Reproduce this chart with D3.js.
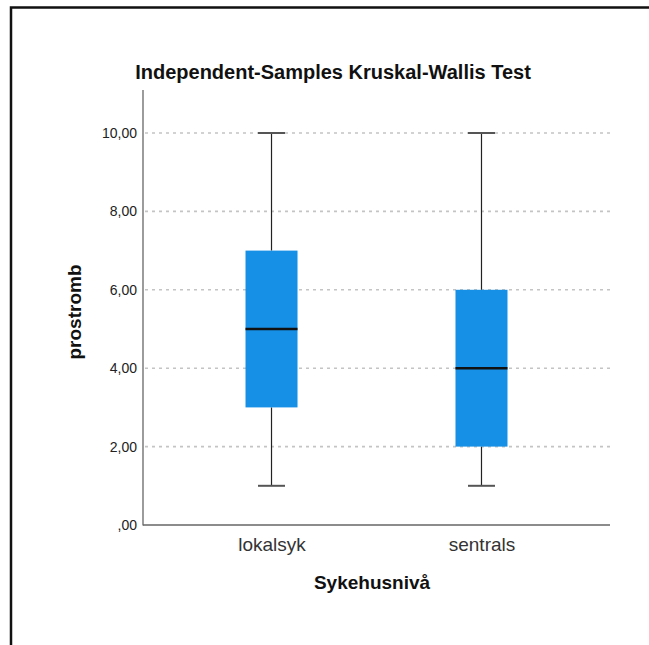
<!DOCTYPE html>
<html><head><meta charset="utf-8">
<script src="https://cdn.jsdelivr.net/npm/d3@7"></script>
<style>body{margin:0;background:#fff}svg{display:block}</style>
</head><body>
<script>
const categories = ["lokalsyk", "sentrals"];
const mins = [1, 1];
const q1s = [3, 2];
const medians = [5, 4];
const q3s = [7, 6];
const maxs = [10, 10];
const yTicks = [0, 2, 4, 6, 8, 10];
const title = "Independent-Samples Kruskal-Wallis Test";
const xTitle = "Sykehusnivå";
const yTitle = "prostromb";

const W = 649, H = 645;
const svg = d3.select("body").append("svg").attr("width", W).attr("height", H);

// outer frame (left + top)
svg.append("path").attr("d", `M11,${H} L11,7.5 L${W},7.5`).attr("fill","none").attr("stroke","#111").attr("stroke-width",2.5);

const x0 = 143, x1 = 610, yTop = 90, yBot = 525;
const y = d3.scaleLinear().domain([0, 11.1]).range([yBot, yBot - 39.2*11.1]);
const x = d3.scalePoint().domain(categories).range([x0, x1]).padding(0.612);

const font = "Arial, 'Liberation Sans', sans-serif";

// gridlines
svg.append("g").selectAll("line").data(yTicks.filter(d=>d>0)).join("line")
  .attr("x1", x0+2).attr("x2", x1).attr("y1", d=>y(d)).attr("y2", d=>y(d))
  .attr("stroke", "#c4c4c4").attr("stroke-width", 1.6).attr("stroke-dasharray", "3,4");

// y axis
const yAxis = d3.axisLeft(y).tickValues(yTicks).tickSize(0).tickPadding(6)
  .tickFormat(d => d === 0 ? ",00" : d3.format(".2f")(d).replace(".", ","));
const gy = svg.append("g").attr("transform", `translate(${x0},0)`).call(yAxis);
gy.select(".domain").remove();
gy.selectAll("text").attr("font-family", font).attr("font-size", 14).attr("fill", "#222");

// axis lines
svg.append("line").attr("x1", x0).attr("x2", x0).attr("y1", yTop).attr("y2", yBot+0.5).attr("stroke", "#666").attr("stroke-width", 1.3);
svg.append("line").attr("x1", x0).attr("x2", x1).attr("y1", yBot).attr("y2", yBot).attr("stroke", "#666").attr("stroke-width", 1.3);

// x axis labels
const xAxis = d3.axisBottom(x).tickSize(0).tickPadding(13);
const gx = svg.append("g").attr("transform", `translate(0,${yBot})`).call(xAxis);
gx.select(".domain").remove();
gx.selectAll("text").attr("font-family", font).attr("font-size", 19).attr("fill", "#333");

// boxes
const boxW = 52, capW = 27;
const data = categories.map((c,i)=>({c, min:mins[i], q1:q1s[i], med:medians[i], q3:q3s[i], max:maxs[i]}));
const g = svg.append("g").selectAll("g").data(data).join("g");
g.append("line").attr("x1", d=>x(d.c)).attr("x2", d=>x(d.c)).attr("y1", d=>y(d.max)).attr("y2", d=>y(d.q3)).attr("stroke","#222").attr("stroke-width",1.2);
g.append("line").attr("x1", d=>x(d.c)).attr("x2", d=>x(d.c)).attr("y1", d=>y(d.q1)).attr("y2", d=>y(d.min)).attr("stroke","#222").attr("stroke-width",1.2);
g.append("line").attr("x1", d=>x(d.c)-capW/2).attr("x2", d=>x(d.c)+capW/2).attr("y1", d=>y(d.max)).attr("y2", d=>y(d.max)).attr("stroke","#555").attr("stroke-width",2);
g.append("line").attr("x1", d=>x(d.c)-capW/2).attr("x2", d=>x(d.c)+capW/2).attr("y1", d=>y(d.min)).attr("y2", d=>y(d.min)).attr("stroke","#555").attr("stroke-width",2);
g.append("rect").attr("x", d=>x(d.c)-boxW/2).attr("width", boxW).attr("y", d=>y(d.q3)).attr("height", d=>y(d.q1)-y(d.q3)).attr("fill","#1690e6");
g.append("line").attr("x1", d=>x(d.c)-boxW/2).attr("x2", d=>x(d.c)+boxW/2).attr("y1", d=>y(d.med)).attr("y2", d=>y(d.med)).attr("stroke","#111").attr("stroke-width",2.5);

// titles
svg.append("text").attr("x", 333).attr("y", 79).attr("text-anchor","middle").attr("font-family", font).attr("font-weight","bold").attr("font-size",20).attr("fill","#111").text(title);
svg.append("text").attr("x", 372).attr("y", 589).attr("text-anchor","middle").attr("font-family", font).attr("font-weight","bold").attr("font-size",19).attr("fill","#111").text(xTitle);
svg.append("text").attr("transform", "translate(81,312) rotate(-90)").attr("text-anchor","middle").attr("font-family", font).attr("font-weight","bold").attr("font-size",19).attr("fill","#111").text(yTitle);
</script>
</body></html>
